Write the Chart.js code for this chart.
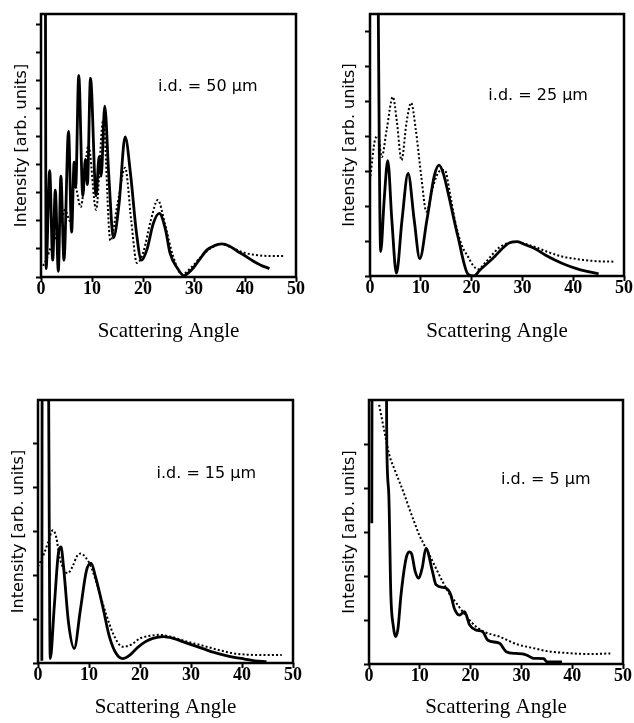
<!DOCTYPE html>
<html>
<head>
<meta charset="utf-8">
<script src="https://cdn.jsdelivr.net/npm/chart.js@4/dist/chart.umd.min.js"></script>
<style>
  body { margin: 0; background: #fff; }
  #wrap { position: relative; width: 634px; height: 723px; overflow: hidden; }
  canvas { position: absolute; }
</style>
</head>
<body>
<div id="wrap">
  <canvas id="c50" width="317" height="350" style="left:0;top:0"></canvas>
  <canvas id="c25" width="317" height="350" style="left:317px;top:0"></canvas>
  <canvas id="c15" width="317" height="353" style="left:0;top:370px"></canvas>
  <canvas id="c5" width="317" height="353" style="left:317px;top:370px"></canvas>
</div>
<script>
// x ticks shared by all four panels
const xTicks = [0, 10, 20, 30, 40, 50];
const idLabels = ['i.d. = 50 µm', 'i.d. = 25 µm', 'i.d. = 15 µm', 'i.d. = 5 µm'];

// i.d. = 50 um
const ang50Exp = [0.85, 1.0, 1.7, 2.3, 2.8, 3.4, 3.9, 4.5, 5.4, 6.0, 6.5, 6.8, 7.4, 8.2, 8.7, 9.1, 9.7, 10.8, 11.4, 11.8, 12.5, 13.3, 14.2, 15.3, 16.5, 17.6, 18.7, 19.7, 20.8, 22.0, 23.2, 24.4, 25.3, 26.8, 28.0, 29.5, 31.0, 32.5, 34.0, 35.4, 37.0, 38.5, 40.0, 41.5, 43.0, 44.8];
const int50Exp = [12, 0.3, 3.8, 0.6, 3.1, 0.2, 3.6, 0.6, 5.2, 1.6, 4.1, 3.2, 7.2, 2.9, 4.2, 3.3, 7.1, 2.9, 4.3, 3.6, 6.1, 3.6, 1.4, 2.6, 5.0, 3.6, 1.6, 0.6, 1.0, 1.9, 2.27, 1.7, 0.85, 0.3, 0.05, 0.25, 0.6, 0.96, 1.12, 1.18, 1.1, 0.92, 0.76, 0.58, 0.43, 0.3];
const ang50Calc = [0.4, 1.0, 1.8, 2.6, 3.3, 4.0, 4.7, 5.7, 6.5, 7.8, 9.3, 10.8, 12.2, 13.6, 15.0, 16.5, 17.7, 18.8, 20.0, 21.5, 22.9, 24.3, 25.8, 27.6, 29.5, 31.5, 33.5, 35.4, 37.0, 38.5, 40.0, 41.5, 43.5, 45.5, 47.5];
const int50Calc = [0.4, 0.6, 1.0, 1.3, 1.7, 2.0, 2.4, 2.0, 3.4, 2.5, 4.7, 2.4, 5.6, 1.3, 2.6, 3.9, 2.0, 0.5, 0.85, 2.0, 2.75, 1.9, 0.8, 0.1, 0.35, 0.75, 1.05, 1.18, 1.08, 0.96, 0.86, 0.8, 0.76, 0.75, 0.75];

// i.d. = 25 um
const ang25Exp = [1.5, 2.1, 2.8, 3.5, 4.3, 5.2, 6.3, 7.5, 8.7, 9.8, 11.2, 12.7, 13.6, 14.5, 15.4, 17.3, 19.3, 20.5, 21.5, 23.0, 24.5, 26.0, 27.5, 29.0, 30.5, 32.5, 34.5, 36.5, 38.5, 40.5, 42.5, 45.0];
const int25Exp = [10, 0.7, 2.2, 3.3, 1.6, 0.08, 1.6, 2.93, 1.6, 0.5, 1.6, 2.89, 3.17, 2.9, 2.36, 1.13, 0.05, 0.0, 0.15, 0.35, 0.55, 0.78, 0.95, 0.98, 0.9, 0.78, 0.6, 0.45, 0.32, 0.22, 0.14, 0.06];
const ang25Calc = [0, 1.0, 1.6, 2.3, 3.3, 4.5, 5.3, 6.2, 7.2, 8.1, 9.0, 10.1, 11.1, 12.5, 13.7, 14.7, 15.7, 16.7, 18.0, 19.3, 20.3, 21.3, 22.5, 24.0, 25.5, 27.0, 29.0, 31.0, 33.0, 35.5, 38.0, 40.0, 42.0, 45.0, 48.0];
const int25Calc = [2.74, 3.9, 4.0, 3.4, 4.2, 5.12, 4.4, 3.31, 4.4, 4.95, 4.2, 2.84, 1.84, 2.6, 3.0, 3.03, 2.4, 1.6, 0.9, 0.55, 0.3, 0.19, 0.35, 0.6, 0.82, 0.93, 0.97, 0.9, 0.8, 0.66, 0.55, 0.5, 0.46, 0.42, 0.41];

// i.d. = 15 um
const ang15Exp = [0.75, 0.85, 1.9, 2.4, 3.2, 4.0, 4.5, 5.0, 6.0, 7.1, 8.3, 9.5, 10.4, 11.3, 12.7, 14.0, 15.3, 16.6, 18.0, 19.5, 21.0, 22.5, 24.6, 26.5, 28.5, 30.5, 32.5, 34.5, 36.5, 38.5, 40.5, 42.5, 44.8];
const int15Exp = [0.05, 9, 9, 0.1, 1.3, 2.5, 2.64, 2.2, 0.9, 0.33, 1.2, 2.1, 2.27, 1.95, 1.28, 0.6, 0.22, 0.1, 0.18, 0.35, 0.48, 0.56, 0.6, 0.56, 0.48, 0.4, 0.32, 0.24, 0.18, 0.13, 0.09, 0.05, 0.03];
const ang15Calc = [0, 1.2, 2.0, 2.9, 3.6, 4.2, 5.0, 5.8, 6.8, 7.6, 8.4, 9.2, 10.4, 11.8, 13.3, 14.8, 16.6, 18.3, 20.0, 22.0, 23.9, 26.0, 28.0, 30.0, 31.8, 34.0, 36.0, 38.3, 41.0, 44.0, 47.8];
const int15Calc = [2.19, 2.49, 2.75, 3.02, 2.85, 2.42, 2.15, 2.04, 2.2, 2.42, 2.49, 2.42, 2.19, 1.7, 1.13, 0.65, 0.37, 0.42, 0.56, 0.62, 0.64, 0.6, 0.53, 0.46, 0.41, 0.34, 0.28, 0.22, 0.19, 0.18, 0.18];

// i.d. = 5 um
const ang5Exp = [0.55, 0.65, 3.3, 3.5, 3.9, 4.3, 4.8, 5.2, 5.7, 6.3, 7.3, 7.9, 8.4, 9.1, 9.8, 10.5, 11.2, 12.5, 13.2, 15.2, 16.1, 16.8, 17.8, 18.8, 19.8, 21.1, 22.4, 23.4, 25.7, 27.0, 28.9, 30.2, 31.1, 32.4, 34.4, 35.0, 38.0];
const int5Exp = [3.2, 9, 9, 5.0, 3.85, 1.57, 0.85, 0.62, 0.8, 1.57, 2.4, 2.55, 2.5, 2.1, 1.95, 2.2, 2.63, 2.1, 1.8, 1.72, 1.57, 1.26, 1.11, 1.19, 0.89, 0.77, 0.73, 0.54, 0.47, 0.28, 0.24, 0.23, 0.2, 0.13, 0.12, 0.05, 0.05];
const ang5Calc = [2.0, 3.3, 4.0, 5.0, 6.0, 7.0, 7.9, 8.9, 9.9, 10.9, 11.9, 13.2, 14.5, 15.8, 17.1, 18.7, 20.4, 22.5, 25.7, 29.1, 32.0, 35.7, 39.0, 42.3, 45.0, 47.5];
const int5Calc = [5.89, 5.13, 4.75, 4.43, 4.14, 3.84, 3.54, 3.23, 2.93, 2.7, 2.48, 2.17, 1.87, 1.6, 1.4, 1.15, 0.92, 0.74, 0.62, 0.45, 0.37, 0.28, 0.25, 0.23, 0.23, 0.24];

function pts(xs, ys) {
  return xs.map((x, i) => ({ x: x, y: ys[i] }));
}

// draws the frame around the plot and the i.d. note
const frame = {
  id: 'frame',
  afterDraw(chart, args, opts) {
    const { ctx, chartArea: a } = chart;
    ctx.save();
    ctx.lineWidth = 2.5;
    ctx.strokeStyle = '#000';
    ctx.strokeRect(a.left, a.top, a.right - a.left, a.bottom - a.top);
    ctx.fillStyle = '#000';
    ctx.font = '16px "DejaVu Sans"';
    ctx.textAlign = 'center';
    ctx.textBaseline = 'middle';
    ctx.fillText(opts.text, chart.scales.x.getPixelForValue(opts.at[0]), chart.scales.y.getPixelForValue(opts.at[1]));
    ctx.restore();
  }
};

function panel(id, p) {
  new Chart(document.getElementById(id), {
    type: 'line',
    data: {
      datasets: [
        { data: pts(p.expX, p.expY), borderColor: '#000', borderWidth: 2.8, pointRadius: 0, cubicInterpolationMode: 'monotone' },
        { data: pts(p.calcX, p.calcY), borderColor: '#000', borderWidth: 2, borderDash: [2, 2.2], pointRadius: 0, cubicInterpolationMode: 'monotone' }
      ]
    },
    options: {
      responsive: false,
      animation: false,
      layout: { padding: { top: p.top, right: p.right, left: 0, bottom: 0 } },
      plugins: { legend: { display: false }, tooltip: { enabled: false }, frame: { text: p.label, at: p.at } },
      scales: {
        x: {
          type: 'linear', min: 0, max: 50,
          afterBuildTicks: s => { s.ticks = xTicks.map(v => ({ value: v })); },
          afterFit: s => { s.height = p.xh; s.paddingLeft = 0; s.paddingRight = 0; },
          grid: { drawOnChartArea: false, tickLength: 5, tickWidth: 2, color: '#000' },
          border: { display: false },
          ticks: { color: '#000', padding: -3, maxRotation: 0, font: { family: 'Liberation Serif', size: 18, weight: 'bold' } },
          title: { display: true, text: 'Scattering Angle', color: '#000', font: { family: 'Liberation Serif', size: 21 }, padding: { top: 0, bottom: p.xt } }
        },
        y: {
          type: 'linear', min: 0, max: p.ymax,
          afterBuildTicks: s => { s.ticks = p.yTicks.map(v => ({ value: v })); },
          afterFit: s => { s.width = p.yw; s.paddingTop = 0; s.paddingBottom = 0; },
          grid: { drawOnChartArea: false, tickLength: 5, tickWidth: 2, color: '#000' },
          border: { display: false },
          ticks: { display: false },
          title: { display: true, text: 'Intensity [arb. units]', color: '#000', font: { family: 'DejaVu Sans', size: 16 }, padding: { top: p.yt, bottom: 0 } }
        }
      }
    },
    plugins: [frame]
  });
}

panel('c50', { expX: ang50Exp, expY: int50Exp, calcX: ang50Calc, calcY: int50Calc, label: idLabels[0], at: [32.7, 6.8],
  ymax: 9.39, yTicks: [0, 1, 2, 3, 4, 5, 6, 7, 8, 9], top: 14, right: 21, yw: 41, xh: 73, xt: 6, yt: 12.4 });
panel('c25', { expX: ang25Exp, expY: int25Exp, calcX: ang25Calc, calcY: int25Calc, label: idLabels[1], at: [33.1, 5.14],
  ymax: 7.49, yTicks: [0, 1, 2, 3, 4, 5, 6, 7], top: 14, right: 10, yw: 53, xh: 74, xt: 6, yt: 23.4 });
panel('c15', { expX: ang15Exp, expY: int15Exp, calcX: ang15Calc, calcY: int15Calc, label: idLabels[2], at: [33.0, 4.3],
  ymax: 5.98, yTicks: [0, 1, 2, 3, 4, 5], top: 30, right: 24, yw: 38, xh: 60, xt: 3, yt: 9.4 });
panel('c5', { expX: ang5Exp, expY: int5Exp, calcX: ang5Calc, calcY: int5Calc, label: idLabels[3], at: [34.8, 4.18],
  ymax: 6.0, yTicks: [0, 1, 2, 3, 4, 5], top: 30, right: 11, yw: 52, xh: 59, xt: 3, yt: 23.4 });
</script>
</body>
</html>
